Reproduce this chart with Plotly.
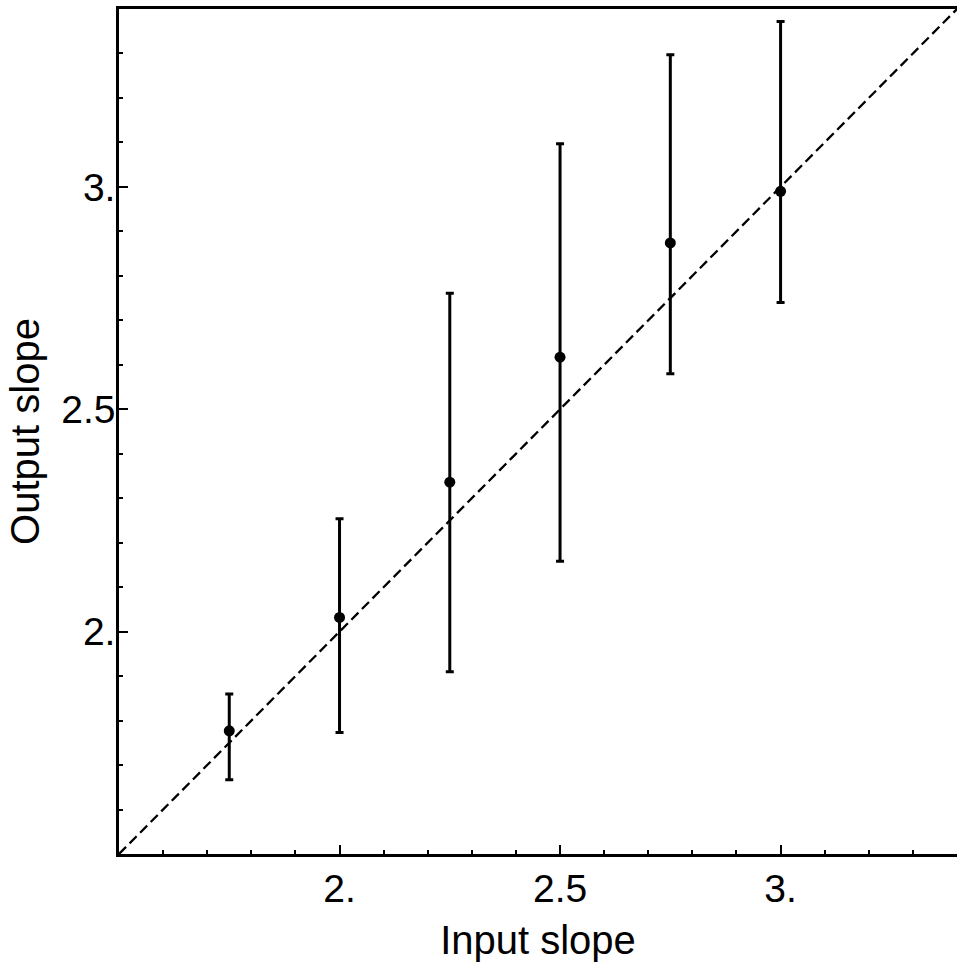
import plotly.graph_objects as go

input_slope = [1.75, 2.0, 2.25, 2.5, 2.75, 3.0]
output_slope = [1.777, 2.032, 2.336, 2.617, 2.874, 2.990]
upper = [1.860, 2.254, 2.761, 3.097, 3.297, 3.372]
lower = [1.667, 1.773, 1.910, 2.158, 2.580, 2.740]

major_vals = [2.0, 2.5, 3.0]
major_text = ["2.", "2.5", "3."]
minor_vals = [1.6, 1.7, 1.8, 1.9, 2.1, 2.2, 2.3, 2.4, 2.6, 2.7, 2.8, 2.9, 3.1, 3.2, 3.3]
diag = [1.5, 3.4]

err_plus = [u - y for u, y in zip(upper, output_slope)]
err_minus = [y - l for y, l in zip(output_slope, lower)]

fig = go.Figure()
fig.add_trace(go.Scatter(
    x=diag, y=diag, mode="lines",
    line=dict(color="black", width=2.3, dash="10px,5px"),
    hoverinfo="skip", showlegend=False))
fig.add_trace(go.Scatter(
    x=input_slope, y=output_slope, mode="markers",
    marker=dict(color="black", size=11),
    error_y=dict(type="data", symmetric=False, array=err_plus, arrayminus=err_minus,
                 color="black", thickness=3, width=4),
    showlegend=False))

font = "Liberation Sans, Arial, Helvetica, sans-serif"
axis_common = dict(
    showgrid=False, zeroline=False, showline=True, linecolor="black", linewidth=2.5,
    ticks="inside", ticklen=9, tickwidth=2, tickcolor="black",
    tickvals=major_vals, ticktext=major_text,
    tickfont=dict(family=font, size=39, color="black"),
    minor=dict(tickvals=minor_vals, ticks="inside", ticklen=4, tickwidth=2, tickcolor="black"),
    range=[1.5, 3.4],
)

fig.update_layout(
    width=957, height=966,
    margin=dict(l=119, r=0, t=9, b=112),
    paper_bgcolor="white", plot_bgcolor="white",
    xaxis=dict(**axis_common, mirror=True, ticklabelstandoff=-2,
               title=dict(text="Input slope", font=dict(family=font, size=40, color="black"), standoff=18)),
    yaxis=dict(**axis_common, ticklabelstandoff=-7,
               title=dict(text="Output slope", font=dict(family=font, size=40, color="black"), standoff=10)),
)

fig.write_html("out.html")
